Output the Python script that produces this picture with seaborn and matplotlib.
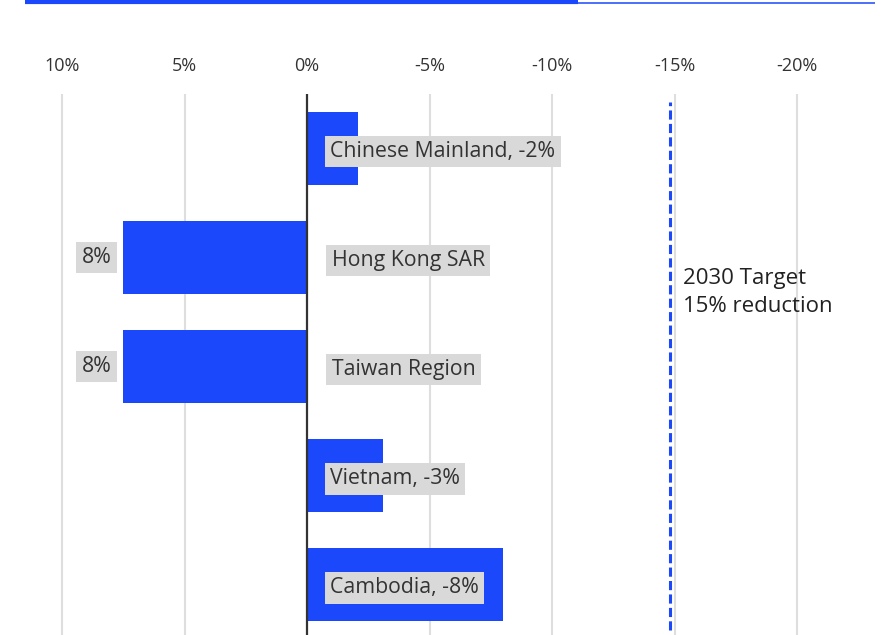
import matplotlib
matplotlib.use("Agg")
import matplotlib.pyplot as plt
import seaborn as sns
import pandas as pd
from matplotlib.lines import Line2D

categories = ["Chinese Mainland", "Hong Kong SAR", "Taiwan Region", "Vietnam", "Cambodia"]
values = [-2.1, 7.5, 7.5, -3.1, -8.0]
value_labels = ["-2%", "8%", "8%", "-3%", "-8%"]
tick_values = [10, 5, 0, -5, -10, -15, -20]
tick_labels = ["10%", "5%", "0%", "-5%", "-10%", "-15%", "-20%"]
target_value = -14.8
target_text = "2030 Target\n15% reduction"

sns.set_theme(style="white")
plt.rcParams['font.family'] = ['Open Sans', 'DejaVu Sans']

W, H = 892, 635
fig = plt.figure(figsize=(W / 100, H / 100), dpi=100)
ax = fig.add_axes([25 / W, 0, 850 / W, 1 - 94 / H])

df = pd.DataFrame({"category": categories, "value": values})
bar_color = "#1b48fb"
sns.barplot(data=df, y="category", x="value", orient="h", color=bar_color,
            width=0.67, saturation=1, ax=ax, zorder=3, edgecolor=bar_color, linewidth=0)

ax.set_xlim(11.51, -23.18)
ax.set_ylim(4.46, -0.5)

for t in tick_values:
    if t != 0:
        ax.axvline(t, color="#dedede", lw=1.5, zorder=1)
ax.axvline(0, color="#333333", lw=1.6, zorder=4)

ax.xaxis.tick_top()
ax.set_xticks(tick_values)
ax.set_xticklabels(tick_labels, fontsize=13, color="#333333")
ax.tick_params(axis="x", length=0, pad=14)
ax.set_yticks([])
ax.set_xlabel("")
ax.set_ylabel("")
for s in ax.spines.values():
    s.set_visible(False)

fs = 15.3
box = dict(boxstyle="square,pad=0.25", facecolor="#d9d9d9", edgecolor="none")
for i, (cat, v, lab) in enumerate(zip(categories, values, value_labels)):
    if v < 0:
        ax.annotate(f"{cat}, {lab}", (-0.95, i), xytext=(0, -3), textcoords="offset pixels",
                    ha="left", va="center", fontsize=fs,
                    color="#333333", bbox=box, zorder=5)
    else:
        ax.annotate(cat, (-1.0, i), xytext=(0, -3), textcoords="offset pixels",
                    ha="left", va="center", fontsize=fs,
                    color="#333333", bbox=box, zorder=5)
        ax.annotate(lab, (v, i), xytext=(-12, 0), textcoords="offset pixels",
                    ha="right", va="center", fontsize=fs, color="#333333",
                    bbox=box, zorder=5)

ax.axvline(target_value, ymin=0.009, ymax=0.985, color="#1b48fb", lw=2.2,
           dashes=(3, 1.4), zorder=4)
ax.text(-15.35, 1.32, target_text, ha="left", va="center", fontsize=16,
        color="#222222", linespacing=1.4)

fig.add_artist(Line2D([25 / W, 578 / W], [1 - 2 / H, 1 - 2 / H], color="#1b48fb",
                      lw=3.0, solid_capstyle="butt"))
fig.add_artist(Line2D([578 / W, 875 / W], [1 - 2.8 / H, 1 - 2.8 / H], color="#1b48fb",
                      lw=1.1, solid_capstyle="butt"))

fig.savefig("out.png", dpi=100)
